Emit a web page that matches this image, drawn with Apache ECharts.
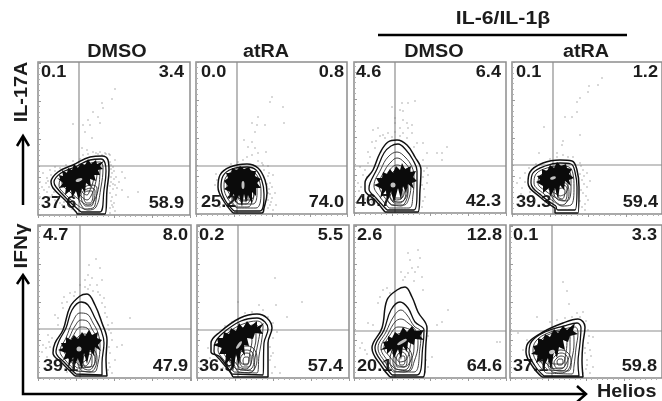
<!DOCTYPE html>
<html><head><meta charset="utf-8">
<style>html,body{margin:0;padding:0;background:#fff}#c{width:662px;height:401px;filter:blur(0.5px)}</style>
<script src="https://cdn.jsdelivr.net/npm/echarts@6/dist/echarts.min.js"></script>
</head><body><div id="c"></div>
<script>
// ---- Column and row names ----
const columnTitles = ['DMSO', 'atRA', 'DMSO', 'atRA'];
const treatmentTitle = 'IL-6/IL-1β';
const rowTitles = ['IL-17A', 'IFNγ'];
const xTitle = 'Helios';

// ---- Quadrant percentages: upper-left, upper-right, lower-left, lower-right ----
const quadA = ['0.1', '3.4', '37.6', '58.9'];
const quadB = ['0.0', '0.8', '25.2', '74.0'];
const quadC = ['4.6', '6.4', '46.7', '42.3'];
const quadD = ['0.1', '1.2', '39.3', '59.4'];
const quadE = ['4.7', '8.0', '39.1', '47.9'];
const quadF = ['0.2', '5.5', '36.9', '57.4'];
const quadG = ['2.6', '12.8', '20.1', '64.6'];
const quadH = ['0.1', '3.3', '37.1', '59.8'];

// ---- Quadrant gates [Helios, cytokine] ----
const gateA = [41, 49]; const gateB = [41, 48]; const gateC = [41, 47]; const gateD = [41, 49];
const gateE = [42, 49]; const gateF = [41, 48]; const gateG = [41, 47]; const gateH = [42, 47];

// ---- Density contours, outermost first, then the nested lower lobes ----
const contoursA = [
 [[39,2],[27,15],[15,27],[13,33],[20,43],[35,50],[52,58],[64,59],[70,55],[71,45],[69,25],[67,1],[39,1]],
 [[43,3],[30,15],[18,28],[16,33],[23,42],[37,48],[52,55],[63,56],[67,52],[68,44],[66,25],[62,3]],
 [[42,8],[30,18],[21,30],[26,40],[40,47],[53,52],[62,53],[65,47],[63,28],[58,8],[50,5]],
 [[44,13],[32,23],[24,32],[30,41],[43,46],[55,49],[62,48],[61,30],[56,14],[50,10]],
 [[45,17],[35,27],[28,34],[34,41],[46,45],[56,46],[59,42],[57,30],[53,19],[49,15]],
 [[46,21],[38,30],[32,35],[40,41],[50,43],[56,42],[55,33],[52,25],[49,20]],
 [[46,6],[42,12],[40,20],[45,27],[54,30],[59,27],[58,15],[55,7]],
 [[47,9],[44,14],[43,20],[47,25],[54,27],[57,24],[56,15],[53,9]],
 [[48,12],[46,16],[46,21],[50,24],[54,24],[55,20],[54,14],[52,12]]
];
const contoursB = [
 [[37,1],[27,14],[22,27],[24,39],[34,47],[51,50],[62,46],[69,34],[71,21],[68,6],[66,1]],
 [[38,3],[29,14],[25,27],[27,38],[36,45],[51,47],[60,44],[66,33],[68,20],[64,3]],
 [[41,6],[32,15],[28,27],[30,37],[38,43],[51,44],[59,41],[64,31],[65,20],[60,6]],
 [[43,10],[35,18],[31,27],[33,36],[40,41],[50,42],[57,38],[61,29],[61,20],[57,10]],
 [[46,14],[38,20],[34,28],[36,35],[43,39],[50,39],[55,35],[58,28],[58,20],[54,14]],
 [[40,7],[36,14],[36,22],[44,27],[54,26],[58,20],[56,12],[52,7]],
 [[42,10],[39,15],[40,21],[46,24],[53,23],[55,18],[53,12],[50,10]],
 [[44,13],[42,17],[44,21],[48,22],[52,20],[52,15],[49,13]]
];
const contoursC = [
 [[31,1],[21,13],[11,23],[11,30],[19,43],[26,60],[34,71],[43,73],[53,68],[61,56],[67,43],[66,23],[64,1]],
 [[33,3],[22,15],[15,24],[16,30],[23,44],[30,60],[37,67],[44,69],[52,63],[59,53],[63,42],[63,20],[60,3]],
 [[35,5],[26,16],[20,27],[27,44],[34,56],[43,61],[51,56],[58,46],[60,35],[59,18],[55,5]],
 [[37,8],[29,18],[25,28],[31,43],[37,51],[43,55],[50,51],[56,42],[57,30],[55,15],[50,8]],
 [[39,12],[32,22],[30,30],[35,42],[43,48],[50,45],[54,37],[54,25],[51,14],[45,11]],
 [[41,15],[36,24],[36,32],[41,42],[48,41],[52,33],[51,22],[47,15]],
 [[38,8],[33,15],[33,24],[40,30],[50,30],[54,22],[52,12],[47,7]],
 [[40,10],[36,16],[36,23],[42,27],[49,27],[52,21],[50,13],[46,10]],
 [[42,13],[39,17],[40,23],[44,25],[48,24],[49,19],[47,14]]
];
const contoursD = [
 [[43,6],[28,17],[16,31],[18,42],[31,51],[48,54],[60,53],[65,44],[67,27],[66,1],[43,1]],
 [[44,8],[30,18],[19,31],[21,41],[33,48],[48,51],[59,50],[63,42],[65,27],[63,4],[46,4]],
 [[44,11],[32,20],[22,31],[24,40],[35,46],[48,48],[57,47],[61,40],[62,27],[59,9],[50,8]],
 [[46,15],[35,22],[26,31],[28,38],[37,44],[48,45],[56,44],[59,36],[59,25],[55,13]],
 [[48,18],[38,24],[30,32],[32,38],[40,42],[48,43],[54,40],[56,32],[54,21]],
 [[44,12],[39,20],[41,28],[50,32],[56,28],[57,20],[54,11],[49,9]],
 [[46,14],[42,20],[44,27],[50,29],[55,26],[55,19],[52,13]],
 [[47,16],[45,21],[47,25],[51,26],[53,23],[52,17],[50,15]]
];
const contoursE = [
 [[37,2],[24,15],[15,25],[17,35],[25,48],[32,71],[42,82],[49,84],[57,73],[64,55],[69,38],[68,18],[69,2]],
 [[38,4],[26,16],[18,26],[21,37],[28,50],[34,68],[43,76],[50,73],[57,60],[63,48],[66,35],[64,15],[64,3]],
 [[38,7],[28,17],[22,27],[28,40],[35,57],[42,65],[49,64],[55,55],[60,45],[62,32],[60,15],[56,6]],
 [[39,10],[31,19],[26,28],[32,42],[37,52],[43,58],[49,57],[54,49],[58,40],[58,28],[55,12]],
 [[41,13],[34,21],[30,30],[35,42],[43,51],[49,50],[53,42],[54,30],[52,18],[47,12]],
 [[43,15],[38,24],[36,32],[41,42],[47,44],[50,36],[50,26],[48,18]],
 [[44,7],[40,14],[41,24],[48,30],[56,28],[59,20],[57,10],[52,6]],
 [[46,9],[43,15],[44,23],[49,27],[55,25],[57,18],[55,11],[51,8]],
 [[47,11],[45,16],[46,22],[50,24],[54,22],[54,16],[52,11]]
];
const contoursF = [
 [[36,1],[23,21],[14,26],[14,35],[23,46],[43,60],[60,64],[70,60],[75,50],[71,35],[71,1]],
 [[35,4],[24,17],[17,27],[18,35],[26,45],[44,57],[60,60],[68,56],[71,49],[67,35],[66,3]],
 [[37,6],[26,19],[21,28],[24,37],[32,46],[46,54],[60,57],[66,52],[65,40],[62,22],[60,5]],
 [[39,9],[29,21],[25,30],[29,38],[38,46],[48,51],[58,53],[63,48],[61,35],[58,20],[56,7]],
 [[42,11],[33,23],[30,32],[34,39],[42,45],[50,47],[58,48],[59,40],[56,25],[53,12],[48,9]],
 [[45,14],[38,26],[36,33],[42,40],[50,42],[55,38],[53,26],[50,14]],
 [[41,6],[37,15],[40,26],[48,32],[56,30],[60,20],[58,10],[52,5]],
 [[43,8],[40,15],[43,25],[49,28],[55,26],[57,18],[55,10],[50,8]],
 [[45,11],[43,16],[45,23],[50,25],[54,22],[54,15],[51,11]],
 [[47,13],[46,17],[48,21],[51,21],[52,17],[50,13]]
];
const contoursG = [
 [[36,1],[28,11],[18,30],[28,50],[33,78],[43,88],[51,91],[58,81],[64,66],[73,50],[72,35],[69,1]],
 [[38,3],[30,13],[21,30],[30,48],[37,68],[46,76],[54,70],[61,56],[70,48],[69,33],[63,3]],
 [[39,6],[31,16],[24,30],[32,46],[40,62],[47,68],[53,63],[60,52],[67,46],[66,30],[60,6]],
 [[41,9],[33,18],[27,30],[34,44],[41,56],[47,59],[54,55],[62,47],[64,34],[60,16],[55,7]],
 [[43,13],[36,21],[30,30],[36,43],[44,51],[52,50],[60,44],[60,30],[56,16],[50,11]],
 [[45,16],[39,24],[36,32],[41,42],[50,45],[57,42],[56,30],[52,18]],
 [[40,7],[36,15],[38,27],[46,32],[54,30],[58,20],[56,9],[50,6]],
 [[42,9],[39,15],[41,26],[47,29],[53,27],[56,19],[54,10],[49,8]],
 [[43,11],[42,16],[44,24],[48,26],[52,23],[53,16],[50,11]],
 [[46,13],[45,18],[47,22],[50,22],[51,17],[49,13]]
];
const contoursH = [
 [[32,1],[23,11],[16,26],[18,35],[33,46],[53,55],[68,59],[75,51],[73,35],[72,18],[73,1]],
 [[34,2],[25,12],[19,26],[22,37],[35,46],[54,52],[67,55],[71,50],[70,35],[68,15],[69,2]],
 [[36,5],[28,14],[23,27],[26,37],[38,45],[54,49],[65,51],[68,45],[66,30],[64,12],[62,4]],
 [[38,8],[31,16],[26,28],[30,37],[40,44],[55,47],[63,47],[64,35],[62,20],[58,7]],
 [[41,10],[34,18],[30,29],[35,37],[44,42],[56,44],[60,42],[60,28],[56,14],[50,9]],
 [[43,14],[37,22],[34,30],[40,38],[50,40],[57,38],[56,26],[52,14]],
 [[42,6],[38,13],[42,23],[50,28],[57,26],[61,18],[58,8],[50,5]],
 [[44,8],[41,14],[45,22],[51,25],[56,23],[58,17],[56,9],[50,7]],
 [[46,10],[44,15],[47,20],[51,22],[55,20],[55,14],[53,10]],
 [[48,13],[47,16],[49,19],[52,19],[53,15],[51,13]]
];

// ---- Saturated high-density core of each population ----
const coreA = [[19,37],[22,36],[21,40],[25,39],[24,45],[29,42],[30,47],[34,45],[36,51],[40,47],[43,52],[47,50],[50,56],[53,51],[58,55],[59,51],[66,54],[62,49],[65,46],[60,45],[62,40],[56,40],[58,34],[52,36],[53,28],[48,32],[47,22],[44,27],[41,15],[38,24],[34,17],[33,25],[27,20],[28,28],[21,27],[25,32]];
const coreB = [[28,25],[32,28],[28,33],[32,36],[30,41],[35,41],[36,46],[41,44],[44,48],[48,45],[53,47],[55,43],[60,43],[59,38],[65,35],[61,31],[65,26],[60,26],[60,18],[56,22],[56,10],[52,19],[50,11],[48,20],[46,7],[43,19],[39,11],[38,20],[33,15],[34,22]];
const coreC = [[20,28],[25,30],[22,35],[28,35],[29,41],[33,39],[36,44],[39,40],[42,47],[46,43],[48,50],[51,44],[57,47],[56,41],[62,42],[59,36],[63,32],[58,30],[60,24],[54,29],[52,20],[49,27],[47,13],[44,25],[40,10],[37,22],[33,12],[32,23],[26,14],[28,24]];
const coreD = [[24,32],[28,34],[25,38],[30,39],[30,45],[35,43],[38,49],[42,46],[45,52],[49,48],[54,50],[55,46],[60,45],[57,40],[62,36],[57,34],[59,28],[53,33],[52,24],[48,29],[46,15],[43,26],[38,17],[37,26],[31,21],[31,28]];
const coreE = [[20,28],[25,30],[23,35],[28,35],[28,41],[33,38],[36,43],[40,39],[44,46],[47,42],[51,48],[54,43],[60,46],[59,40],[64,38],[60,33],[63,27],[57,31],[56,22],[52,28],[49,14],[46,25],[44,8],[40,20],[37,13],[35,21],[30,9],[31,20],[25,18],[28,25]];
const coreF = [[16,33],[21,35],[20,40],[26,40],[27,46],[32,44],[34,50],[39,47],[42,55],[46,50],[50,57],[54,52],[60,57],[60,51],[67,55],[63,49],[66,44],[58,45],[56,39],[50,40],[52,32],[47,33],[48,22],[44,28],[42,12],[39,24],[36,6],[34,20],[28,13],[29,24],[22,24],[25,30]];
const coreG = [[26,28],[31,31],[29,36],[34,37],[34,42],[38,40],[41,46],[45,43],[49,51],[53,46],[58,52],[61,47],[70,48],[66,42],[70,38],[61,39],[60,33],[54,36],[53,26],[49,32],[47,18],[44,29],[40,20],[38,29],[33,24],[33,29]];
const coreH = [[21,24],[25,27],[23,32],[28,33],[28,40],[33,38],[35,44],[40,41],[44,49],[48,45],[53,52],[57,48],[65,55],[63,47],[68,44],[60,42],[58,36],[53,38],[55,28],[49,31],[47,20],[44,27],[41,8],[38,20],[33,9],[33,19],[26,15],[28,23]];

// ---- Centre of the densest region ----
const peakA = [[41,35]]; const peakB = [[47,29]]; const peakC = [[39,28]]; const peakD = [[41,36]];
const peakE = [[41,29]]; const peakF = [[42,33]]; const peakG = [[48,36]]; const peakH = [[42,26]];

// ---- Individual events outside the contours ----
const eventsA = [[77,126],[74,116],[64,112],[65,107],[60,98],[55,103],[50,95],[45,90],[35,91],[52,90],[62,92],[47,83],[54,77],[44,67],[49,65],[55,63],[45,60],[62,63],[72,60],[77,55],[75,48],[84,43],[78,38],[87,37],[77,30],[84,25],[74,18],[90,18],[100,23],[75,8],[72,2],[2,33],[5,42],[9,37],[4,28],[9,23],[12,18],[17,15],[2,18],[22,12],[27,7],[12,45],[17,48],[73,50],[74,42],[76,36],[73,33],[75,26],[72,22],[79,27],[73,14],[76,12],[72,7],[78,20],[81,33],[71,61],[67,62],[58,62],[50,61],[42,56],[35,54],[28,50],[22,47],[13,40],[8,32],[11,28],[14,20],[20,18],[24,10],[73,38],[75,31],[72,29],[74,10],[77,4],[73,46],[76,44],[72,53],[68,61],[64,60],[60,61],[17,44],[10,34],[6,25],[16,23],[26,13],[31,9],[34,6]];
const eventsB = [[76,117],[74,112],[87,107],[62,97],[56,91],[61,89],[69,89],[88,91],[59,82],[48,74],[56,72],[52,67],[59,66],[70,62],[62,61],[51,57],[47,54],[62,53],[56,59],[67,49],[73,41],[77,39],[74,31],[79,21],[76,16],[74,9],[77,4],[19,29],[21,34],[24,7],[72,6],[76,27],[72,21],[42,52],[35,50],[72,48],[66,51],[20,40],[75,12],[80,9],[73,25],[71,30],[72,14],[74,20],[72,38],[68,44]];
const eventsC = [[61,112],[48,110],[54,110],[38,106],[46,103],[49,102],[41,95],[49,93],[41,90],[53,90],[58,88],[46,85],[54,85],[24,85],[19,83],[34,80],[41,81],[49,80],[58,80],[26,77],[18,71],[31,75],[53,75],[14,61],[21,65],[63,70],[69,70],[93,66],[83,60],[88,60],[73,60],[88,53],[69,53],[6,46],[11,43],[14,50],[4,30],[69,36],[73,30],[71,16],[68,6],[8,18],[18,11],[73,45],[9,38],[5,22],[13,36],[16,56],[29,78],[38,76],[70,24],[74,38],[68,28],[69,12],[70,42],[7,26],[11,14],[22,72],[60,66],[46,77]];
const eventsD = [[90,136],[86,129],[77,128],[76,122],[68,116],[65,112],[53,97],[60,97],[65,102],[32,87],[68,79],[51,73],[50,69],[45,61],[27,61],[56,57],[61,57],[51,59],[68,51],[71,44],[75,41],[70,34],[75,27],[71,21],[76,14],[70,7],[8,36],[13,41],[5,31],[10,26],[18,22],[23,14],[73,4],[13,32],[72,38],[69,48],[45,57],[38,55],[24,50],[17,46],[9,20],[68,13],[73,10],[78,33],[69,24],[72,30],[68,40],[74,18],[28,20],[33,12]];
const eventsE = [[58,119],[51,113],[62,110],[50,103],[54,100],[47,98],[64,98],[42,93],[52,93],[59,93],[37,86],[50,89],[32,85],[62,83],[24,75],[67,71],[29,76],[17,63],[25,70],[69,61],[74,55],[20,53],[92,60],[5,33],[10,43],[4,26],[9,21],[12,16],[74,38],[79,31],[84,33],[72,25],[77,18],[72,11],[74,5],[22,11],[67,65],[60,86],[36,82],[26,81],[66,80],[71,48],[14,40],[12,31],[73,45],[71,15],[47,91],[55,87],[71,31],[70,8],[11,36],[8,30],[29,6],[20,60],[70,53],[64,75]];
const eventsF = [[78,100],[41,76],[79,73],[105,76],[90,61],[62,73],[48,65],[55,66],[66,68],[71,61],[80,46],[76,40],[73,31],[76,25],[78,11],[75,5],[83,5],[13,20],[20,18],[26,10],[11,30],[73,18],[76,55],[35,56],[28,52],[74,22]];
const eventsG = [[64,128],[54,125],[56,118],[58,110],[64,111],[61,106],[54,105],[51,101],[49,98],[68,101],[33,90],[26,81],[24,75],[69,88],[94,68],[88,56],[83,53],[14,55],[19,53],[6,30],[11,28],[78,21],[146,36],[143,36],[74,11],[29,88],[36,85],[60,97],[47,106],[66,120],[13,24],[74,42],[8,35],[72,18],[71,6]];
const eventsH = [[53,96],[57,87],[59,74],[27,61],[40,56],[67,65],[73,66],[70,61],[62,61],[47,58],[55,60],[78,48],[83,41],[78,35],[80,28],[75,25],[77,18],[83,11],[80,5],[8,45],[17,38],[13,28],[73,5],[77,13],[79,42],[75,30],[81,22],[76,57],[76,9]];

// ---- Layout ----
const W = 662, H = 401;
const panels = [
 {l:38, r:190,t:62, b:215,q:quadA,g:gateA,c:contoursA,k:coreA,p:peakA,e:eventsA,li:3,ri:6,ps:[7,3],pr:20},
 {l:196,r:347,t:62, b:214,q:quadB,g:gateB,c:contoursB,k:coreB,p:peakB,e:eventsB,li:5,ri:3,ps:[3,8],pr:0},
 {l:354,r:506,t:62, b:213,q:quadC,g:gateC,c:contoursC,k:coreC,p:peakC,e:eventsC,li:2,ri:5,ps:[5,5],pr:0},
 {l:512,r:662,t:62, b:214,q:quadD,g:gateD,c:contoursD,k:coreD,p:peakD,e:eventsD,li:4,ri:4,ps:[6,3],pr:15},
 {l:38, r:191,t:225,b:378,q:quadE,g:gateE,c:contoursE,k:coreE,p:peakE,e:eventsE,li:5,ri:3,ps:[5,5],pr:0},
 {l:197,r:349,t:225,b:378,q:quadF,g:gateF,c:contoursF,k:coreF,p:peakF,e:eventsF,li:2,ri:6,ps:[9,3],pr:55},
 {l:354,r:506,t:225,b:378,q:quadG,g:gateG,c:contoursG,k:coreG,p:peakG,e:eventsG,li:3,ri:4,ps:[11,3],pr:30},
 {l:510,r:662,t:225,b:378,q:quadH,g:gateH,c:contoursH,k:coreH,p:peakH,e:eventsH,li:3,ri:5,ps:[6,4],pr:20}
];
const FONT = '"Liberation Sans", Arial, sans-serif';
const INK = '#1c1c1c';
const GATE = '#8d8d8d';

const grids = [], xAxes = [], yAxes = [], series = [], gfx = [];
panels.forEach((P, i) => {
  const xMax = P.r - P.l, yMax = P.b - P.t;
  grids.push({left:P.l, top:P.t, width:xMax, height:yMax, show:true, backgroundColor:'transparent', borderColor:GATE, borderWidth:1.5, containLabel:false});
  const axisBase = {type:'value', min:0, interval:38, axisLabel:{show:false}, splitLine:{show:false}, axisLine:{show:false},
    axisTick:{show:true, length:3, lineStyle:{color:'#9a9a9a', width:1}},
    minorTick:{show:true, splitNumber:7, length:2, lineStyle:{color:'#b0b0b0', width:1}}};
  xAxes.push(Object.assign({}, axisBase, {gridIndex:i, max:xMax, position:'bottom'}));
  yAxes.push(Object.assign({}, axisBase, {gridIndex:i, max:yMax, position:'left', axisTick:Object.assign({}, axisBase.axisTick, {inside:true}), minorTick:Object.assign({}, axisBase.minorTick)}));
  const ax = {xAxisIndex:i, yAxisIndex:i};
  series.push(Object.assign({type:'scatter', data:P.e, symbolSize:1.4, itemStyle:{color:'#7c7c7c'}, silent:true, z:3}, ax));
  series.push(Object.assign({type:'line', data:[[P.g[0],0],[P.g[0],yMax]], symbol:'none', lineStyle:{color:GATE, width:1.2}, silent:true, z:3}, ax));
  series.push(Object.assign({type:'line', data:[[0,P.g[1]],[xMax,P.g[1]]], symbol:'none', lineStyle:{color:GATE, width:1.2}, silent:true, z:3}, ax));
  P.c.forEach((loop, j) => {
    series.push(Object.assign({type:'line', data:loop.concat([loop[0]]), symbol:'none', smooth:0.4, clip:true,
      lineStyle:{color:j < 2 ? '#111' : '#2a2a2a', width:j === 0 ? 1.5 : (j === 1 ? 1.3 : 0.9)}, silent:true, z:4}, ax));
  });
  series.push(Object.assign({type:'custom', coordinateSystem:'cartesian2d', data:[0], silent:true, z:5, clip:true,
    renderItem:(params, api) => ({type:'polygon', shape:{points:P.k.map(pt => api.coord(pt))}, style:{fill:'#0b0b0b'}})}, ax));
  series.push(Object.assign({type:'scatter', data:P.p, symbol:'circle', symbolSize:P.ps, symbolRotate:P.pr, itemStyle:{color:'#f0f0f0'}, silent:true, z:6}, ax));

  const tx = (x, y, s, align, size, sx) => ({type:'text', x, y, scaleX:sx, z:1, silent:true,
    style:{x:0, y:0, text:s, fill:INK, font:'bold ' + size + 'px ' + FONT, textAlign:align, textVerticalAlign:'middle'}});
  gfx.push(tx(P.l + P.li, P.t + 10, P.q[0], 'left', 16.5, 1.1));
  gfx.push(tx(P.r - P.ri, P.t + 10, P.q[1], 'right', 16.5, 1.1));
  gfx.push(tx(P.l + P.li, P.b - 12, P.q[2], 'left', 16.5, 1.1));
  gfx.push(tx(P.r - P.ri, P.b - 12, P.q[3], 'right', 16.5, 1.1));
});

const headText = (x, y, s, sx, rot) => ({type:'text', x, y, scaleX:sx, rotation:rot || 0, z:10, silent:true,
  style:{x:0, y:0, text:s, fill:INK, font:'bold 18px ' + FONT, textAlign:'center', textVerticalAlign:'middle'}});
[117, 266, 434, 586].forEach((x, i) => gfx.push(headText(x, 52, columnTitles[i], 1.1)));
gfx.push(headText(503, 19, treatmentTitle, 1.18));
gfx.push(headText(22, 92, rowTitles[0], 1.1, Math.PI / 2));
gfx.push(headText(22, 246, rowTitles[1], 1.15, Math.PI / 2));
gfx.push({type:'text', x:597, y:392, scaleX:1.1, z:10, silent:true,
  style:{x:0, y:0, text:xTitle, fill:INK, font:'bold 18px ' + FONT, textAlign:'left', textVerticalAlign:'middle'}});

const stroke = (pts, w) => ({type:'polyline', z:10, silent:true, shape:{points:pts}, style:{stroke:'#000', lineWidth:w, fill:null}});
gfx.push(stroke([[378,35],[627,35]], 2.5));
gfx.push(stroke([[23,205],[23,137]], 2.5));
gfx.push(stroke([[17,146],[23,136],[29,146]], 2.5));
gfx.push(stroke([[23,276],[23,394],[585,394]], 2.5));
gfx.push(stroke([[17,284],[23,275],[29,284]], 2.5));
gfx.push(stroke([[577,386],[586,394],[577,402]], 2.5));

const chart = echarts.init(document.getElementById('c'), null, {renderer:'canvas', width:W, height:H});
chart.setOption({animation:false, backgroundColor:'#fff', grid:grids, xAxis:xAxes, yAxis:yAxes, series:series, graphic:{elements:gfx}});
</script>
</body></html>
